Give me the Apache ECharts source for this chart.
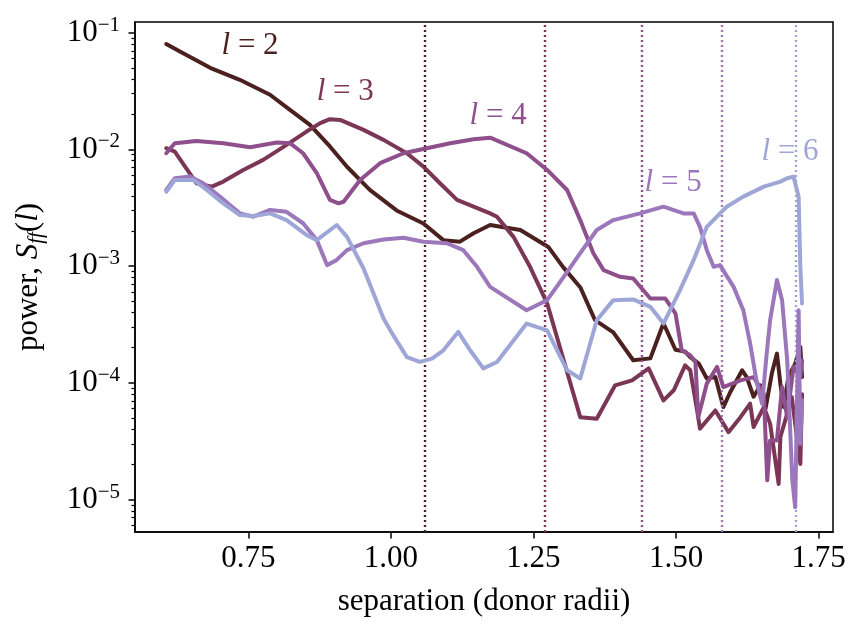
<!DOCTYPE html>
<html>
<head>
<meta charset="utf-8">
<script src="https://cdn.jsdelivr.net/npm/echarts@6/dist/echarts.min.js"></script>
<style>html,body{margin:0;padding:0;background:#fff}#c{width:863px;height:630px}</style>
</head>
<body>
<div id="c"></div>
<script>
// ---------- data ----------
const seriesNames = ['l=2', 'l=3', 'l=4', 'l=5', 'l=6'];
const labelDigits = ['2', '3', '4', '5', '6'];
const xTicks = [0.75, 1.00, 1.25, 1.50, 1.75];
const yMajorTicks = [1e-5, 1e-4, 1e-3, 1e-2, 1e-1];
const resonanceSep = [1.062, 1.270, 1.441, 1.584, 1.709];
const labelPos = [[0.753, 0.0773], [0.920, 0.0312], [1.188, 0.0194], [1.495, 0.00516], [1.700, 0.00952]];

const powerL2 = [
  [0.606,0.080],[0.630,0.069],[0.683,0.050],[0.735,0.0395],[0.788,0.0294],[0.823,0.0218],
  [0.858,0.0162],[0.893,0.0106],[0.923,0.0071],[0.963,0.0045],[1.010,0.0030],[1.057,0.00232],
  [1.092,0.00167],[1.121,0.00162],[1.145,0.00191],[1.174,0.00225],[1.227,0.00204],[1.276,0.00146],
  [1.302,0.00098],[1.332,0.00066],[1.358,0.000344],[1.390,0.000271],[1.425,0.000156],[1.455,0.000162],
  [1.478,0.000324],[1.499,0.000192],[1.516,0.000185],[1.525,0.000166],[1.540,0.000146],[1.554,0.000109],
  [1.569,0.000112],[1.583,0.000062],[1.595,0.000083],[1.616,0.000128],[1.624,0.000112],[1.636,0.000076],
  [1.648,0.000095],[1.657,0.000060],[1.668,0.000120],[1.677,0.000178],[1.683,0.000098],[1.689,0.000062],
  [1.697,0.000112],[1.709,0.000146],[1.718,0.000203],[1.721,0.000112]
];
const powerL3 = [
  [0.606,0.01024],[0.621,0.00957],[0.639,0.00712],[0.659,0.00513],[0.686,0.0048],[0.706,0.0053],
  [0.741,0.00667],[0.776,0.00813],[0.817,0.01094],[0.852,0.01422],[0.876,0.0168],[0.893,0.01816],
  [0.911,0.0179],[0.952,0.0147],[0.987,0.01207],[1.028,0.00927],[1.057,0.00712],[1.086,0.00513],
  [1.116,0.00369],[1.145,0.00323],[1.174,0.00283],[1.186,0.00265],[1.215,0.00178],[1.244,0.000986],
  [1.274,0.000479],[1.303,0.000156],[1.332,0.0000508],[1.361,0.0000493],[1.393,0.000095],[1.423,0.000105],
  [1.452,0.000133],[1.478,0.0000708],[1.496,0.0000863],[1.516,0.000141],[1.525,0.000128],[1.537,0.000058],
  [1.542,0.0000405],[1.569,0.000058],[1.592,0.0000378],[1.613,0.0000508],[1.630,0.0000662],[1.636,0.0000418],
  [1.654,0.000062],[1.665,0.0000447],[1.680,0.0000136],[1.683,0.0000343],[1.695,0.0000544],[1.703,0.0000755],
  [1.718,0.0000202],[1.721,0.000080]
];
const powerL4 = [
  [0.606,0.00927],[0.621,0.0113],[0.659,0.01183],[0.706,0.0113],[0.753,0.01045],[0.800,0.01144],
  [0.823,0.0113],[0.846,0.00927],[0.870,0.00625],[0.893,0.00369],[0.908,0.00345],[0.917,0.00356],
  [0.946,0.00547],[0.981,0.00762],[1.022,0.00927],[1.063,0.01024],[1.104,0.0113],[1.145,0.01224],
  [1.174,0.0126],[1.238,0.00927],[1.274,0.00667],[1.309,0.00449],[1.332,0.00248],[1.355,0.00129],
  [1.373,0.000924],[1.402,0.00081],[1.425,0.000784],[1.455,0.000528],[1.481,0.000528],[1.499,0.000393],
  [1.510,0.00019],[1.525,0.000172],[1.534,0.000151],[1.539,0.0000508],[1.554,0.0000985],[1.572,0.000137],
  [1.583,0.000092],[1.613,0.000105],[1.636,0.000112],[1.654,0.0000807],[1.660,0.0000146],[1.665,0.0000321],
  [1.677,0.0000321],[1.686,0.000092],[1.695,0.0000508],[1.706,0.000137],[1.718,0.000112],[1.721,0.000156]
];
const powerL5 = [
  [0.606,0.00449],[0.621,0.00566],[0.648,0.00585],[0.671,0.00513],[0.700,0.00394],[0.735,0.00283],
  [0.759,0.00265],[0.788,0.00303],[0.817,0.00292],[0.846,0.00233],[0.870,0.00167],[0.888,0.00102],
  [0.905,0.00113],[0.923,0.00137],[0.952,0.00157],[0.987,0.00169],[1.022,0.00175],[1.057,0.00162],
  [1.098,0.00157],[1.127,0.00137],[1.151,0.000986],[1.174,0.000664],[1.238,0.000419],[1.274,0.000511],
  [1.303,0.00081],[1.332,0.00129],[1.361,0.00204],[1.390,0.00248],[1.437,0.00283],[1.478,0.00323],
  [1.513,0.00283],[1.531,0.00283],[1.542,0.00217],[1.554,0.00137],[1.566,0.000986],[1.577,0.00102],
  [1.601,0.000664],[1.618,0.000419],[1.630,0.000217],[1.642,0.0000985],[1.651,0.0000662],[1.659,0.000178],
  [1.665,0.000344],[1.677,0.000759],[1.686,0.000511],[1.695,0.000156],[1.704,0.0000146],[1.709,0.0000086],
  [1.715,0.000419],[1.718,0.000030],[1.721,0.0000708]
];
const powerL6 = [
  [0.606,0.00434],[0.621,0.00547],[0.654,0.00547],[0.677,0.00449],[0.706,0.00345],[0.735,0.00274],
  [0.759,0.00269],[0.788,0.00283],[0.817,0.00248],[0.852,0.00185],[0.870,0.00167],[0.905,0.00225],
  [0.923,0.00178],[0.952,0.000955],[0.987,0.000356],[1.004,0.000256],[1.028,0.000166],[1.051,0.000151],
  [1.072,0.000161],[1.092,0.00019],[1.118,0.000273],[1.139,0.00019],[1.162,0.000133],[1.186,0.000151],
  [1.238,0.000322],[1.274,0.000282],[1.309,0.000128],[1.332,0.000109],[1.361,0.000344],[1.390,0.000511],
  [1.425,0.000518],[1.455,0.000448],[1.478,0.000322],[1.507,0.000622],[1.531,0.00113],[1.554,0.00217],
  [1.589,0.00323],[1.618,0.00394],[1.654,0.0048],[1.683,0.0053],[1.695,0.00566],[1.706,0.00585],
  [1.715,0.00394],[1.718,0.000986],[1.721,0.000479]
];
const allPower = [powerL2, powerL3, powerL4, powerL5, powerL6];
const colors = ['#4b2120', '#7b3656', '#8e4f8c', '#9c77bc', '#9ea6d8'];

// ---------- chart ----------
const FONT = '"Liberation Serif", "DejaVu Serif", serif';
const yMin = 5.27e-6, yMax = 0.1235;
const yMinorTicks = [];
for (let e = -6; e <= -1; e++) for (let m = 2; m <= 9; m++) {
  const v = m * Math.pow(10, e);
  if (v > yMin && v < yMax) yMinorTicks.push(v);
}
const chart = echarts.init(document.getElementById('c'), null, {renderer: 'canvas', devicePixelRatio: 1});

const series = allPower.map((d, i) => ({
  name: seriesNames[i],
  type: 'line',
  data: d,
  xAxisIndex: 0, yAxisIndex: 0,
  showSymbol: false,
  symbol: 'none',
  animation: false,
  lineStyle: {color: colors[i], width: 4, join: 'round', cap: 'round'},
  emphasis: {disabled: true},
  itemStyle: {color: colors[i]},
  z: 3 + i,
  markLine: {
    silent: true, symbol: ['none', 'none'], animation: false,
    label: {show: false},
    lineStyle: {color: colors[i], type: [2, 3], width: 2.4},
    emphasis: {disabled: true},
    data: [{xAxis: resonanceSep[i]}]
  },
  markPoint: {
    silent: true, animation: false,
    symbol: 'circle', symbolSize: 0,
    itemStyle: {color: 'rgba(0,0,0,0)'},
    label: {
      show: true, position: 'inside',
      formatter: () => '{i|l} = ' + labelDigits[i],
      color: colors[i], fontFamily: FONT, fontSize: 31,
      rich: {i: {fontStyle: 'italic', fontFamily: FONT, fontSize: 31, color: colors[i]}}
    },
    data: [{coord: labelPos[i]}]
  }
}));

chart.setOption({
  backgroundColor: '#fff',
  animation: false,
  grid: {left: 135, top: 22, right: 30, bottom: 98, show: true, borderColor: '#000', borderWidth: 1.5, outerBoundsMode: 'none', containLabel: false},
  xAxis: {
    type: 'value', min: 0.5512, max: 1.7753,
    name: 'separation (donor radii)', nameLocation: 'middle', nameGap: 54,
    nameTextStyle: {fontFamily: FONT, fontSize: 31, color: '#000'},
    axisLine: {show: true, lineStyle: {color: '#000', width: 1.5}},
    axisTick: {show: true, length: 6.5, lineStyle: {color: '#000', width: 1.5}, customValues: xTicks},
    axisLabel: {show: true, margin: 11, fontFamily: FONT, fontSize: 31, color: '#000', customValues: xTicks,
      formatter: v => v.toFixed(2)},
    splitLine: {show: false}
  },
  yAxis: [{
    type: 'log', logBase: 10, min: yMin, max: yMax,
    name: '{n|power, }{i|S}{s|ff}{n|(}{i|l}{n|)}', nameLocation: 'middle', nameGap: 88, nameRotate: 90,
    nameTextStyle: {fontFamily: FONT, fontSize: 31, color: '#000',
      rich: {
        n: {fontFamily: FONT, fontSize: 31, color: '#000', lineHeight: 36},
        i: {fontFamily: FONT, fontSize: 31, fontStyle: 'italic', color: '#000', lineHeight: 36},
        s: {fontFamily: FONT, fontSize: 21, fontStyle: 'italic', color: '#000', lineHeight: 22, verticalAlign: 'bottom'}
      }},
    axisLine: {show: true, lineStyle: {color: '#000', width: 1.5}},
    axisTick: {show: true, length: 6.5, lineStyle: {color: '#000', width: 1.5}, customValues: yMajorTicks},
    axisLabel: {show: true, margin: 15, customValues: yMajorTicks,
      formatter: v => '{b|10}{s|\u2212' + Math.round(-Math.log10(v)) + '}',
      rich: {
        b: {fontFamily: FONT, fontSize: 31, color: '#000', lineHeight: 36},
        s: {fontFamily: FONT, fontSize: 21, color: '#000', lineHeight: 22, verticalAlign: 'top'}
      }},
    splitLine: {show: false},
    minorTick: {show: false}
  }, {
    type: 'log', logBase: 10, min: yMin, max: yMax, position: 'left',
    axisLine: {show: false},
    axisTick: {show: true, length: 3.5, lineStyle: {color: '#000', width: 1.2}, customValues: yMinorTicks},
    axisLabel: {show: false},
    splitLine: {show: false}
  }],
  series: series
});
</script>
</body>
</html>
